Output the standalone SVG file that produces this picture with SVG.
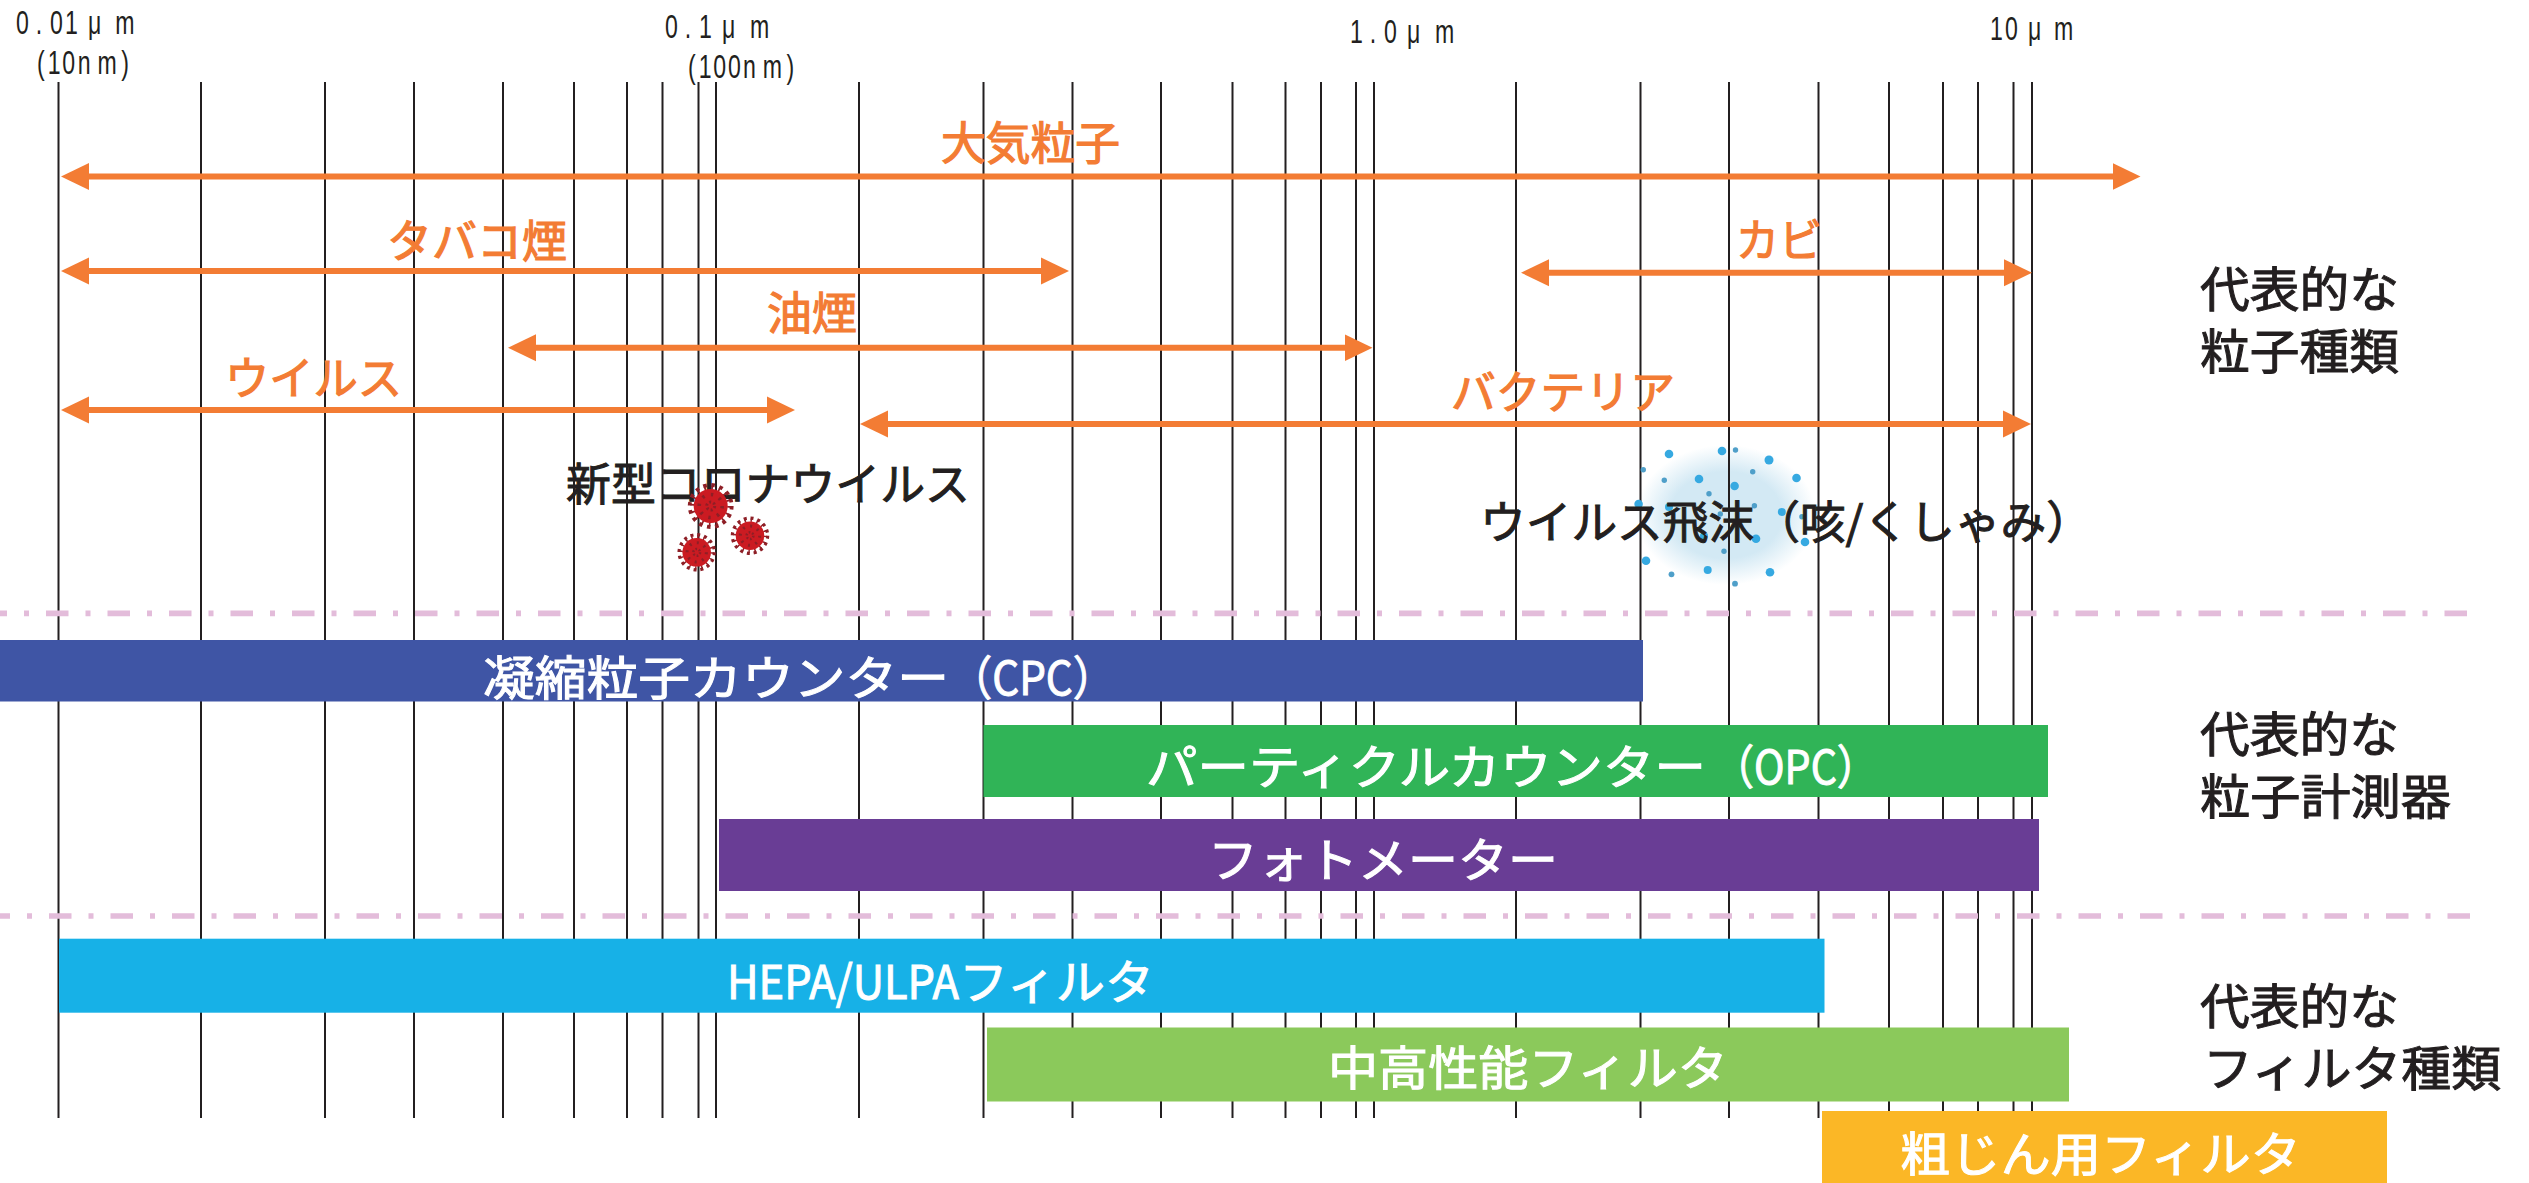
<svg xmlns="http://www.w3.org/2000/svg" width="2529" height="1183" viewBox="0 0 2529 1183">
<style>
text{font-family:"Noto Sans CJK JP","Noto Sans",sans-serif;font-weight:400}
.grid line{stroke:#231f20;stroke-width:2}
.sep line{stroke:#e3bcda;stroke-width:5.6;stroke-dasharray:22.5 17 5 17}
.arr line{stroke:#f37c34;stroke-width:6;marker-start:url(#head);marker-end:url(#head)}
.t-o{fill:#f37c34;stroke:#f37c34;stroke-width:1.2;font-size:45px}
.t-k{fill:#231f20;stroke:#231f20;stroke-width:1;font-size:45px}
.t-h{fill:#231f20;stroke:#231f20;stroke-width:1;font-size:48px}
.t-w{fill:#fff;stroke:#fff;stroke-width:1;font-size:47px}
.ax{fill:#231f20;font-family:"Liberation Sans",sans-serif;font-size:34px}
.big{fill:#36a9e1}
.small{fill:#4f9fc9}
</style>
<defs>
<marker id="head" markerUnits="userSpaceOnUse" markerWidth="29" markerHeight="28" refX="8" refY="14" orient="auto-start-reverse"><path d="M0,0.5 L28,14 L0,27.5z" fill="#f37c34"/></marker>
<radialGradient id="mist"><stop offset="0" stop-color="#d3e9f4"/><stop offset="0.62" stop-color="#d3e9f4"/><stop offset="1" stop-color="#d3e9f4" stop-opacity="0"/></radialGradient>
<symbol id="virus" viewBox="-25 -25 50 50" overflow="visible">
<circle r="21" fill="none" stroke="#8e1f26" stroke-width="3.8" stroke-dasharray="3.6 4.65"/>
<circle r="18.5" fill="none" stroke="#8e1f26" stroke-width="4" stroke-dasharray="1.8 5.47"/>
<circle r="17" fill="#cb1b22"/>
<circle r="11.5" fill="none" stroke="#8e1f26" stroke-width="3.6" stroke-dasharray="2.4 6.6"/>
<circle r="4" fill="none" stroke="#8e1f26" stroke-width="3" stroke-dasharray="2 2.2"/>
</symbol>
</defs>

<rect width="2529" height="1183" fill="#fff"/>
<ellipse id="droplet-mist" cx="1726" cy="515" rx="90" ry="70" fill="url(#mist)"/>

<!-- log-scale size grid -->
<g id="grid" class="grid">
<line x1="58.5" x2="58.5" y1="82" y2="1118"/><line x1="201" x2="201" y1="82" y2="1118"/><line x1="325" x2="325" y1="82" y2="1118"/><line x1="414" x2="414" y1="82" y2="1118"/><line x1="503" x2="503" y1="82" y2="1118"/><line x1="574" x2="574" y1="82" y2="1118"/><line x1="627" x2="627" y1="82" y2="1118"/><line x1="662.5" x2="662.5" y1="82" y2="1118"/><line x1="698.5" x2="698.5" y1="82" y2="1118"/><line x1="716" x2="716" y1="82" y2="1118"/><line x1="859" x2="859" y1="82" y2="1118"/><line x1="983.5" x2="983.5" y1="82" y2="1118"/><line x1="1072.5" x2="1072.5" y1="82" y2="1118"/><line x1="1161" x2="1161" y1="82" y2="1118"/><line x1="1232.5" x2="1232.5" y1="82" y2="1118"/><line x1="1285.5" x2="1285.5" y1="82" y2="1118"/><line x1="1321" x2="1321" y1="82" y2="1118"/><line x1="1356" x2="1356" y1="82" y2="1118"/><line x1="1374" x2="1374" y1="82" y2="1118"/><line x1="1516" x2="1516" y1="82" y2="1118"/><line x1="1640.5" x2="1640.5" y1="82" y2="1118"/><line x1="1729" x2="1729" y1="82" y2="1118"/><line x1="1818.5" x2="1818.5" y1="82" y2="1118"/><line x1="1889" x2="1889" y1="82" y2="1118"/><line x1="1943" x2="1943" y1="82" y2="1118"/><line x1="1978" x2="1978" y1="82" y2="1118"/><line x1="2013.5" x2="2013.5" y1="82" y2="1118"/><line x1="2032" x2="2032" y1="82" y2="1118"/>
</g>

<g id="separators" class="sep">
<line x1="0" x2="2471" y1="613.4" y2="613.4" stroke-dashoffset="15.5"/>
<line x1="0" x2="2474" y1="916" y2="916" stroke-dashoffset="12.5"/>
</g>

<!-- axis captions use a horizontally condensed face; x lists are in the scaled space -->
<g id="axis-labels">
<g id="label-001">
<text class="ax" transform="translate(16 34) scale(.68 1)" x="0 29 50 72 106 146">0.01μm</text>
<text class="ax" transform="translate(37 74) scale(.68 1)" x="0 16 37 60 89 124">(10nm)</text></g>
<g id="label-01">
<text class="ax" transform="translate(665 38) scale(.68 1)" x="0 29 50 84 125">0.1μm</text>
<text class="ax" transform="translate(688 78) scale(.68 1)" x="0 16 37 59 81 110 145">(100nm)</text></g>
<g id="label-1"><text class="ax" transform="translate(1350 43) scale(.68 1)" x="0 29 50 84 125">1.0μm</text></g>
<g id="label-10"><text class="ax" transform="translate(1990 40) scale(.68 1)" x="0 22 56 94">10μm</text></g>
</g>

<!-- particle size ranges -->
<g id="connectors" class="arr">
<line x1="81" x2="2120.5" y1="176.5" y2="176.5"/>
<line x1="81" x2="1049" y1="271" y2="271"/>
<line x1="528" x2="1352.5" y1="347.7" y2="347.7"/>
<line x1="81" x2="775" y1="410" y2="410"/>
<line x1="880" x2="2011" y1="424" y2="424"/>
<line x1="1541" x2="2012" y1="272.7" y2="272.7"/>
</g>

<g id="particle-air"><text class="t-o" x="941" y="160" textLength="179" lengthAdjust="spacingAndGlyphs">大気粒子</text></g>
<g id="particle-smoke"><text class="t-o" x="387" y="258" textLength="180" lengthAdjust="spacingAndGlyphs">タバコ煙</text></g>
<g id="particle-oil"><text class="t-o" x="767" y="330" textLength="90" lengthAdjust="spacingAndGlyphs">油煙</text></g>
<g id="particle-virus"><text class="t-o" x="225" y="395" textLength="177" lengthAdjust="spacingAndGlyphs">ウイルス</text></g>
<g id="particle-mold"><text class="t-o" x="1736" y="257" textLength="86" lengthAdjust="spacingAndGlyphs">カビ</text></g>
<g id="particle-bacteria"><text class="t-o" x="1451" y="409" textLength="224" lengthAdjust="spacingAndGlyphs">バクテリア</text></g>

<g id="droplets">
<g class="big"><circle cx="1669" cy="454" r="4.3"/><circle cx="1722" cy="451" r="4.3"/><circle cx="1769" cy="460" r="4.5"/><circle cx="1796.5" cy="478" r="4.3"/><circle cx="1699" cy="479" r="4.3"/><circle cx="1734.6" cy="486" r="4.3"/><circle cx="1638.6" cy="504" r="4.3"/><circle cx="1669" cy="507" r="4"/><circle cx="1781.8" cy="512" r="4"/><circle cx="1704" cy="536" r="4"/><circle cx="1756" cy="538.7" r="4.3"/><circle cx="1805" cy="542" r="4.3"/><circle cx="1646" cy="560.7" r="4.3"/><circle cx="1707.7" cy="570" r="4"/><circle cx="1770" cy="572.3" r="4.3"/></g>
<g class="small"><circle cx="1735.5" cy="450" r="2.7"/><circle cx="1643.3" cy="469.7" r="2.7"/><circle cx="1664.3" cy="480.3" r="2.7"/><circle cx="1752.7" cy="471.7" r="2.7"/><circle cx="1709" cy="493.7" r="2.7"/><circle cx="1754.4" cy="505.7" r="2.7"/><circle cx="1720.3" cy="514" r="2.7"/><circle cx="1801.9" cy="516.7" r="2.7"/><circle cx="1654.6" cy="535.7" r="2.7"/><circle cx="1724" cy="551.3" r="2.7"/><circle cx="1671.5" cy="574.3" r="2.9"/><circle cx="1735" cy="583.7" r="2.9"/></g>
</g>
<g id="droplet-label"><text class="t-k" x="1480" y="539" textLength="612" lengthAdjust="spacingAndGlyphs">ウイルス飛沫（咳/くしゃみ）</text></g>

<g id="corona-label"><text class="t-k" x="566" y="501" textLength="404" lengthAdjust="spacingAndGlyphs">新型コロナウイルス</text></g>
<g id="corona-icons">
<use href="#virus" x="-25" y="-25" width="50" height="50" transform="translate(710.7 506)"/>
<use href="#virus" x="-25" y="-25" width="50" height="50" transform="translate(750 535.7) scale(.84)"/>
<use href="#virus" x="-25" y="-25" width="50" height="50" transform="translate(696.7 552.3) scale(.84)"/>
</g>

<g id="heading-particles"><text class="t-h" x="2200" y="307" textLength="199" lengthAdjust="spacingAndGlyphs">代表的な</text><text class="t-h" x="2200" y="369" textLength="199" lengthAdjust="spacingAndGlyphs">粒子種類</text></g>
<g id="heading-instruments"><text class="t-h" x="2200" y="752" textLength="199" lengthAdjust="spacingAndGlyphs">代表的な</text><text class="t-h" x="2200" y="814" textLength="251" lengthAdjust="spacingAndGlyphs">粒子計測器</text></g>
<g id="heading-filters"><text class="t-h" x="2200" y="1024" textLength="199" lengthAdjust="spacingAndGlyphs">代表的な</text><text class="t-h" x="2203" y="1086" textLength="298" lengthAdjust="spacingAndGlyphs">フィルタ種類</text></g>

<g id="bar-cpc"><rect x="0" y="640" width="1643" height="61.5" fill="#3f55a5"/><text class="t-w" y="695"><tspan x="483" textLength="466" lengthAdjust="spacingAndGlyphs">凝縮粒子カウンター</tspan><tspan x="950" textLength="165" lengthAdjust="spacingAndGlyphs">（CPC）</tspan></text></g>
<g id="bar-opc"><rect x="983.5" y="725" width="1064.5" height="72" fill="#30b457"/><text class="t-w" y="784"><tspan x="1146" textLength="560" lengthAdjust="spacingAndGlyphs">パーティクルカウンター</tspan><tspan x="1713" textLength="165" lengthAdjust="spacingAndGlyphs">（OPC）</tspan></text></g>
<g id="bar-photometer"><rect x="719" y="819" width="1320" height="72" fill="#693d95"/><text class="t-w" x="1208" y="877" textLength="350" lengthAdjust="spacingAndGlyphs">フォトメーター</text></g>
<g id="bar-hepa"><rect x="59" y="938.7" width="1765.5" height="74" fill="#17b1e7"/><text class="t-w" y="999"><tspan x="727" textLength="232" lengthAdjust="spacingAndGlyphs">HEPA/ULPA</tspan><tspan x="959" textLength="195" lengthAdjust="spacingAndGlyphs">フィルタ</tspan></text></g>
<g id="bar-medium"><rect x="987" y="1027.5" width="1082" height="74" fill="#8bc95b"/><text class="t-w" x="1328" y="1085" textLength="400" lengthAdjust="spacingAndGlyphs">中高性能フィルタ</text></g>
<g id="bar-coarse"><rect x="1822" y="1111" width="565" height="72" fill="#fbb726"/><text class="t-w" x="1900" y="1171" textLength="401" lengthAdjust="spacingAndGlyphs">粗じん用フィルタ</text></g>
</svg>
